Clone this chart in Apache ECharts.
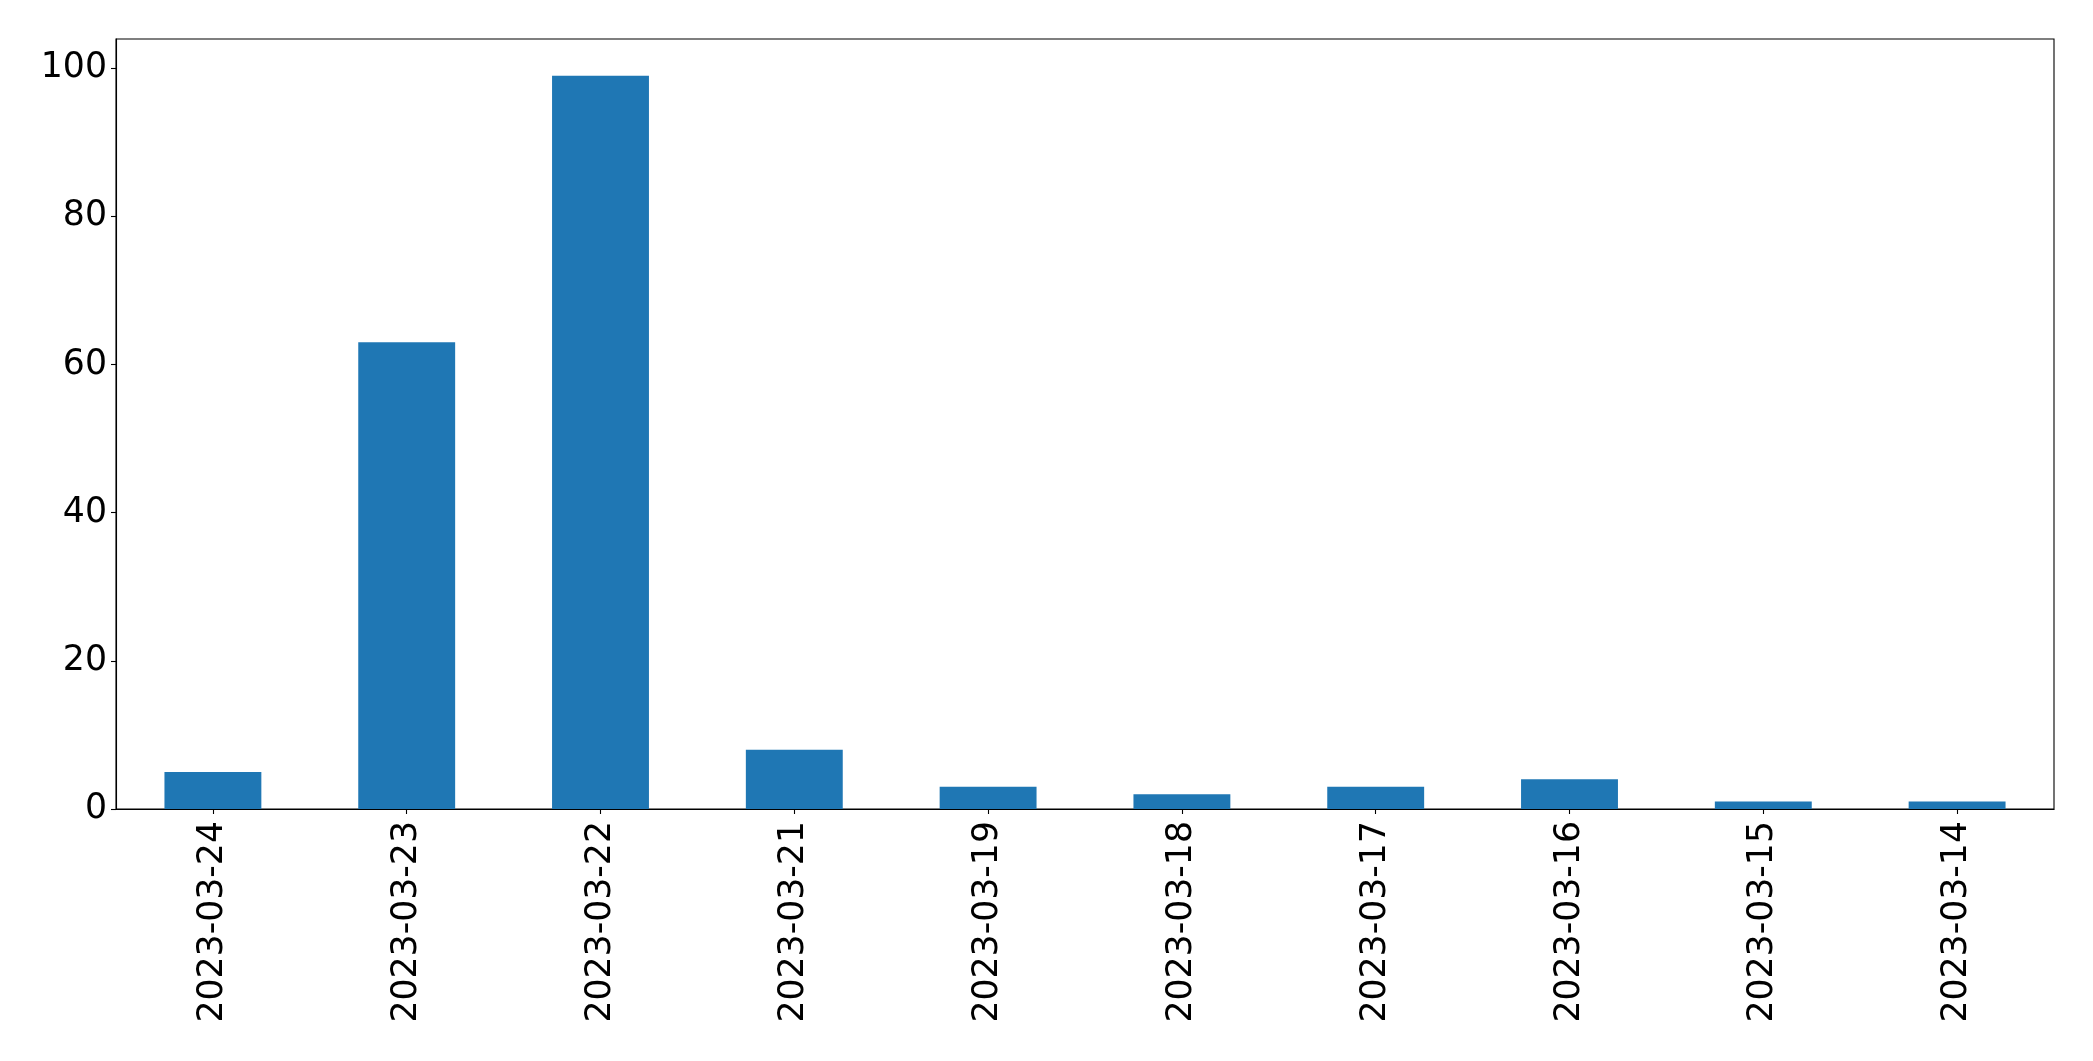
<!DOCTYPE html>
<html>
<head>
<meta charset="utf-8">
<script src="https://cdn.jsdelivr.net/npm/echarts@6/dist/echarts.min.js"></script>
<style>
html,body{margin:0;padding:0;background:#fff;}
#chart{width:2093px;height:1061px;}
</style>
</head>
<body>
<div id="chart"></div>
<script>
const categories = ["2023-03-24","2023-03-23","2023-03-22","2023-03-21","2023-03-19","2023-03-18","2023-03-17","2023-03-16","2023-03-15","2023-03-14"];
const values = [5, 63, 99, 8, 3, 2, 3, 4, 1, 1];
const yTicks = [0, 20, 40, 60, 80, 100];

const chart = echarts.init(document.getElementById('chart'), null, {renderer: 'canvas'});
const font = 'DejaVu Sans';
chart.setOption({
  animation: false,
  backgroundColor: '#ffffff',
  grid: {left: 116, right: 39, top: 39, bottom: 252, show: true, borderColor: '#000', borderWidth: 1.1, backgroundColor: 'transparent'},
  xAxis: {
    type: 'category',
    data: categories,
    boundaryGap: true,
    axisLine: {show: true, lineStyle: {color: '#000', width: 1.1}},
    axisTick: {show: true, alignWithLabel: true, length: 5, lineStyle: {color: '#000', width: 1.1}},
    axisLabel: {rotate: 90, color: '#000', fontFamily: font, fontSize: 34.7, margin: 12, interval: 0},
    splitLine: {show: false}
  },
  yAxis: {
    type: 'value',
    min: 0,
    max: 103.95,
    interval: 20,
    axisLine: {show: true, lineStyle: {color: '#000', width: 1.1}},
    axisTick: {show: true, length: 5, lineStyle: {color: '#000', width: 1.1}},
    axisLabel: {color: '#000', fontFamily: font, fontSize: 34.7, margin: 9,
      formatter: function(v){ return yTicks.indexOf(v) >= 0 ? String(v) : ''; },
      showMaxLabel: false},
    splitLine: {show: false}
  },
  series: [{
    type: 'bar',
    data: values,
    barWidth: '50%',
    itemStyle: {color: '#1f77b4'}
  }]
});
</script>
</body>
</html>
